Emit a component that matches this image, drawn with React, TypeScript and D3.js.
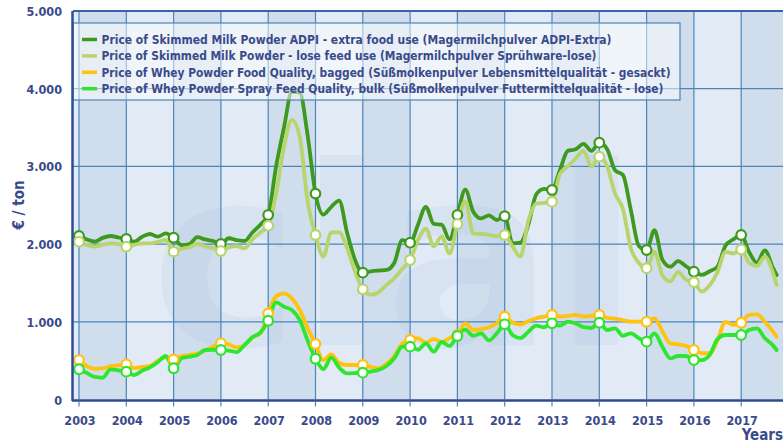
import React from "react";
import * as d3 from "d3";

// Time axis: months since Jan 2003 (bi-monthly readings, last point Oct 2017)
const MONTHS: number[] = [...d3.range(0, 177, 2), 177];

const YEARS = d3.range(2003, 2018);
const Y_TICKS = [0, 1000, 2000, 3000, 4000, 5000];
const Y_TICK_LABELS = ["0", "1.000", "2.000", "3.000", "4.000", "5.000"];

// Skimmed Milk Powder ADPI - extra food use
const SMP_ADPI = [
  2104, 2060, 2031, 2080, 2104, 2085,
  2066, 2031, 2095, 2130, 2095, 2139,
  2082, 1988, 2000, 2090, 2060, 2040,
  2001, 2075, 2050, 2040, 2150, 2250,
  2375, 3000, 3500, 3960, 3950, 3400,
  2650, 2380, 2480, 2560, 2150, 1800,
  1632, 1650, 1660, 1667, 1760, 2050,
  2018, 2250, 2480, 2260, 2250, 2060,
  2375, 2700, 2420, 2330, 2370, 2310,
  2360, 2010, 2020, 2250, 2640, 2710,
  2696, 2950, 3200, 3220, 3290, 3200,
  3305, 3220, 2950, 2890, 2440, 1980,
  1924, 2180, 1800, 1709, 1780, 1715,
  1645, 1605, 1650, 1710, 1980, 2060,
  2117, 1900, 1760, 1920, 1700, 1600,
];

// Skimmed Milk Powder - lose feed use
const SMP_FEED = [
  2031, 1990, 1967, 1990, 2010, 2000,
  1967, 1990, 2010, 2010, 2030, 2053,
  1903, 1940, 1960, 2001, 1970, 1950,
  1911, 1958, 1975, 1946, 2060, 2150,
  2237, 2650, 3250, 3600, 3382, 2550,
  2117, 1840, 2150, 2150, 1950, 1650,
  1418, 1350, 1380, 1474, 1560, 1680,
  1795, 2050, 2200, 1970, 2100, 1880,
  2259, 2550, 2139, 2130, 2120, 2100,
  2117, 1967, 1840, 2300, 2520, 2530,
  2546, 2900, 3000, 3100, 3200, 3000,
  3125, 3000, 2650, 2450, 1950, 1760,
  1690, 1900, 1600, 1520, 1640, 1540,
  1510, 1390, 1470, 1640, 1900, 1880,
  1930, 1760, 1720, 1840, 1640, 1474,
];

// Whey Powder Food Quality, bagged
const WHEY_FOOD = [
  508, 430, 395, 400, 431, 440,
  453, 405, 420, 431, 500, 543,
  517, 560, 573, 590, 630, 680,
  723, 710, 670, 700, 800, 850,
  1109, 1330, 1367, 1302, 1152, 920,
  714, 508, 580, 470, 444, 444,
  444, 420, 400, 460, 560, 720,
  766, 788, 730, 780, 740, 790,
  830, 980, 894, 905, 930, 981,
  1066, 990, 965, 1010, 1045, 1066,
  1088, 1066, 1075, 1088, 1066, 1075,
  1088, 1050, 1040, 1020, 1001, 1001,
  1001, 1045, 880, 723, 710, 690,
  637, 595, 595, 760, 1000, 960,
  988, 1088, 1095, 1000, 880, 808,
];

// Whey Powder Spray Feed Quality, bulk
const WHEY_FEED = [
  389, 340, 290, 280, 389, 375,
  358, 315, 370, 414, 480, 560,
  402, 530, 550, 573, 637, 640,
  637, 630, 610, 700, 800, 860,
  1014, 1250, 1194, 1152, 1023, 760,
  525, 390, 540, 410, 337, 340,
  345, 360, 380, 430, 530, 680,
  680, 640, 723, 615, 740, 690,
  817, 900, 820, 850, 760, 852,
  968, 830, 790, 873, 950, 930,
  981, 950, 1001, 980, 930, 920,
  988, 894, 916, 820, 852, 790,
  744, 852, 680, 530, 560, 560,
  508, 508, 573, 780, 830, 830,
  830, 894, 916, 788, 700, 637,
];

const SERIES_NAMES = [
  "Price of Skimmed Milk Powder ADPI - extra food use (Magermilchpulver ADPI-Extra)",
  "Price of Skimmed Milk Powder - lose feed use (Magermilchpulver Sprühware-lose)",
  "Price of Whey Powder Food Quality, bagged (Süßmolkenpulver Lebensmittelqualität - gesackt)",
  "Price of Whey Powder Spray Feed Quality, bulk (Süßmolkenpulver Futtermittelqualität - lose)",
];
const SERIES_VALUES = [SMP_ADPI, SMP_FEED, WHEY_FOOD, WHEY_FEED];
const SERIES_COLORS = ["#3e9a1e", "#b8d46c", "#ffc20e", "#30e530"];
const LEGEND_WIDTHS = [510, 495, 569, 562];

const W = 783;
const H = 443;
const FONT = '"DejaVu Sans Condensed", "DejaVu Sans", Verdana, sans-serif';
const TEXT = "#3a4a8a";
const GRID = "#4a86ba";
const AXIS = "#2c4c94";

export default function App() {
  const x = d3.scaleLinear().domain([2003, 2018]).range([79, 79 + 15 * 47.3]);
  const y = d3.scaleLinear().domain([0, 5000]).range([399.5, 11]);
  const left = 73;
  const right = W;
  const top = 11;
  const bottom = 399.5;

  const line = d3
    .line<[number, number]>()
    .x((d) => x(2003 + d[0] / 12))
    .y((d) => y(d[1]))
    .curve(d3.curveMonotoneX);

  const drawOrder = [2, 3, 0, 1];

  return (
    <svg
      width={W}
      height={H}
      style={{ position: "absolute", left: 0, top: 0, background: "#fff" }}
      fontFamily={FONT}
    >
      <defs>
        <clipPath id="plot">
          <rect x={left} y={top} width={right - left} height={bottom - top} />
        </clipPath>
      </defs>
      {/* background bands */}
      <rect x={left} y={top} width={right - left} height={bottom - top} fill="#e1eaf5" />
      {YEARS.map((yr, i) => (
        <rect
          key={"b" + yr}
          x={x(yr)}
          y={top}
          width={Math.max(0, Math.min(right, x(yr + 1)) - x(yr))}
          height={bottom - top}
          fill={i % 2 === 0 ? "#cfdded" : "#e1eaf5"}
        />
      ))}
      {/* watermark */}
      <text
        x={395}
        y={345}
        textAnchor="middle"
        fontSize={250}
        fontWeight="bold"
        fill="#9db9d9"
        opacity={0.13}
        fontFamily='"DejaVu Sans", sans-serif'
      >
        clal
      </text>
      {/* grid */}
      {Y_TICKS.filter((v) => v > 0).map((v) => (
        <line key={"h" + v} x1={left} x2={right} y1={y(v)} y2={y(v)} stroke={GRID} strokeWidth={1.2} />
      ))}
      {YEARS.map((yr) => (
        <line key={"v" + yr} x1={x(yr)} x2={x(yr)} y1={top} y2={bottom} stroke={GRID} strokeWidth={1.2} />
      ))}
      <line x1={left} x2={right} y1={top} y2={top} stroke="#3565a8" strokeWidth={2} />

      {/* series */}
      <g clipPath="url(#plot)">
        {drawOrder.map((si) => {
          const pts: [number, number][] = MONTHS.map((m, i) => [m, SERIES_VALUES[si][i]]);
          return (
            <path
              key={"s" + si}
              d={line(pts) || ""}
              fill="none"
              stroke={SERIES_COLORS[si]}
              strokeWidth={3.8}
              strokeLinejoin="round"
              strokeLinecap="round"
            />
          );
        })}
        {drawOrder.map((si) =>
          MONTHS.map((m, i) =>
            m % 12 === 0 ? (
              <circle
                key={"m" + si + "-" + i}
                cx={x(2003 + m / 12)}
                cy={y(SERIES_VALUES[si][i])}
                r={4.8}
                fill="#fff"
                stroke={SERIES_COLORS[si]}
                strokeWidth={2.2}
              />
            ) : null
          )
        )}
      </g>

      {/* legend */}
      <rect x={left} y={23} width={607} height={77} fill="#ffffff" fillOpacity={0.5} stroke={GRID} strokeWidth={1.2} />
      {SERIES_NAMES.map((name, i) => (
        <g key={"l" + i}>
          <line x1={82} x2={97} y1={39.5 + i * 16.4} y2={39.5 + i * 16.4} stroke={SERIES_COLORS[i]} strokeWidth={3.5} />
          <text
            x={101.5}
            y={44 + i * 16.4}
            fontSize={11.5}
            fontWeight="bold"
            fill={TEXT}
            textLength={LEGEND_WIDTHS[i]}
            lengthAdjust="spacingAndGlyphs"
          >
            {name}
          </text>
        </g>
      ))}

      {/* axes */}
      <line x1={72.5} x2={72.5} y1={top} y2={bottom + 1.5} stroke={AXIS} strokeWidth={2.5} />
      <line x1={72} x2={right} y1={bottom + 1} y2={bottom + 1} stroke={AXIS} strokeWidth={2.5} />
      {YEARS.map((yr) => (
        <g key={"t" + yr}>
          <line x1={x(yr)} x2={x(yr)} y1={bottom + 2} y2={bottom + 7} stroke={GRID} strokeWidth={1.2} />
          <text x={x(yr) + 1} y={425} textAnchor="middle" fontSize={12.5} fontWeight="bold" fill={TEXT}>
            {yr}
          </text>
        </g>
      ))}
      {Y_TICKS.map((v, i) => (
        <text key={"yt" + v} x={62} y={y(v) + 5} textAnchor="end" fontSize={12.5} fontWeight="bold" fill={TEXT}>
          {Y_TICK_LABELS[i]}
        </text>
      ))}
      <text
        transform="translate(24,205) rotate(-90)"
        textAnchor="middle"
        fontSize={15}
        fontWeight="bold"
        fill={TEXT}
      >
        € / ton
      </text>
      <text x={783} y={440} textAnchor="end" fontSize={15} fontWeight="bold" fill={TEXT}>
        Years
      </text>
    </svg>
  );
}
